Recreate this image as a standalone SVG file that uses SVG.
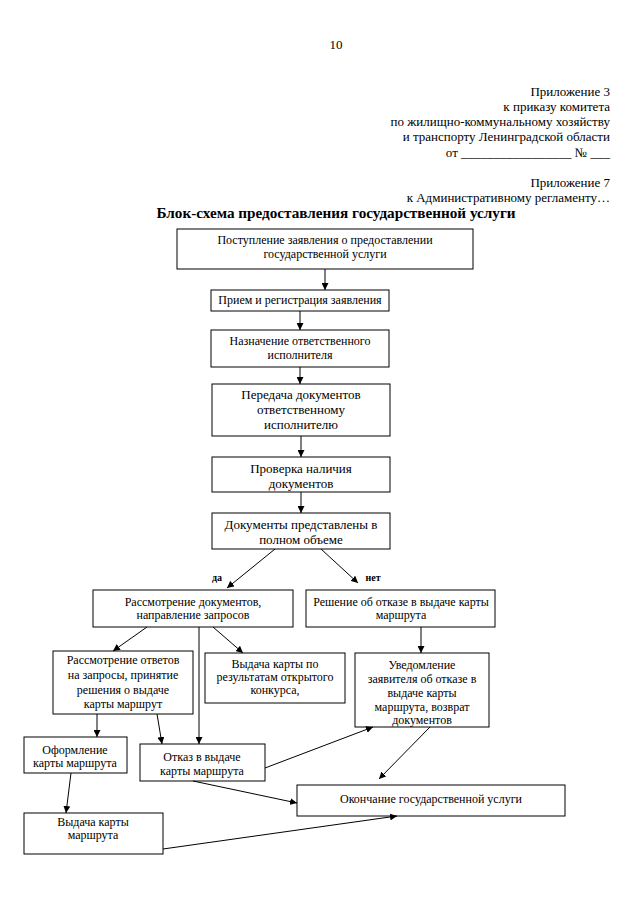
<svg xmlns="http://www.w3.org/2000/svg" width="640" height="905" viewBox="0 0 640 905">
<style>
text{font-family:"Liberation Serif","Times New Roman",serif;fill:#000}
.h{font-size:13px;text-anchor:end}
.t{font-size:12px;text-anchor:middle}
.tl{font-size:13px;text-anchor:middle}
.b{fill:#fff;stroke:#000;stroke-width:1}
.c line{stroke:#000;stroke-width:1}
.lab{font-size:10px;font-weight:bold;text-anchor:middle}
</style>
<defs>
<marker id="ar" viewBox="0 0 10 10" refX="10" refY="5" markerWidth="7" markerHeight="7" markerUnits="userSpaceOnUse" orient="auto"><path d="M0,0 L10,5 L0,10 z" fill="#000"/></marker>
</defs>
<rect width="640" height="905" fill="#fff"/>
<g id="header">
<text x="336" y="49" style="font-size:13px;text-anchor:middle">10</text>
<text class="h" x="610" y="96">Приложение 3</text>
<text class="h" x="610" y="111">к приказу комитета</text>
<text class="h" x="610" y="126">по жилищно-коммунальному хозяйству</text>
<text class="h" x="610" y="141">и транспорту Ленинградской области</text>
<text class="h" x="610" y="157">от _________________ № ___</text>
<text class="h" x="610" y="187">Приложение 7</text>
<text class="h" x="610" y="202">к Административному регламенту…</text>
<text x="336" y="218" style="font-size:15.2px;font-weight:bold;text-anchor:middle">Блок-схема предоставления государственной услуги</text>
</g>
<g id="n1"><rect class="b" x="177" y="229" width="296" height="40"/><text class="t" x="325" y="244">Поступление заявления о предоставлении</text><text class="t" x="325" y="258">государственной услуги</text></g>
<g id="n2"><rect class="b" x="211" y="290" width="178" height="21"/><text class="t" x="300" y="304">Прием и регистрация заявления</text></g>
<g id="n3"><rect class="b" x="211" y="330" width="178" height="37"/><text class="t" x="300" y="345">Назначение ответственного</text><text class="t" x="300" y="359">исполнителя</text></g>
<g id="n4"><rect class="b" x="212" y="384" width="178" height="52"/><text class="tl" x="301" y="399">Передача документов</text><text class="tl" x="301" y="414">ответственному</text><text class="tl" x="301" y="429">исполнителю</text></g>
<g id="n5"><rect class="b" x="212" y="457" width="178" height="35"/><text class="tl" x="301" y="473">Проверка наличия</text><text class="tl" x="301" y="488">документов</text></g>
<g id="n6"><rect class="b" x="212" y="513" width="178" height="36"/><text class="tl" x="301" y="529">Документы представлены в</text><text class="tl" x="301" y="544">полном объеме</text></g>
<g id="n7"><rect class="b" x="93" y="590" width="200" height="37"/><text class="t" x="193" y="606">Рассмотрение документов,</text><text class="t" x="193" y="619">направление запросов</text></g>
<g id="n8"><rect class="b" x="306" y="590" width="189" height="37"/><text class="t" x="401" y="606">Решение об отказе в выдаче карты</text><text class="t" x="401" y="619">маршрута</text></g>
<g id="n9"><rect class="b" x="53" y="651" width="140" height="63"/><text class="t" x="123" y="664">Рассмотрение ответов</text><text class="t" x="123" y="679">на запросы, принятие</text><text class="t" x="123" y="694">решения о выдаче</text><text class="t" x="123" y="708">карты маршрут</text></g>
<g id="n10"><rect class="b" x="205" y="653" width="140" height="50"/><text class="t" x="275" y="668">Выдача карты по</text><text class="t" x="275" y="681">результатам открытого</text><text class="t" x="275" y="694">конкурса,</text></g>
<g id="n11"><rect class="b" x="355" y="653" width="134" height="74"/><text class="t" x="422" y="669">Уведомление</text><text class="t" x="422" y="683">заявителя об отказе в</text><text class="t" x="422" y="697">выдаче карты</text><text class="t" x="422" y="711">маршрута, возврат</text><text class="t" x="422" y="724">документов</text></g>
<g id="n12"><rect class="b" x="24" y="737" width="103" height="36"/><text class="t" x="75" y="754">Оформление</text><text class="t" x="75" y="767">карты маршрута</text></g>
<g id="n13"><rect class="b" x="140" y="744" width="125" height="37"/><text class="t" x="202" y="761">Отказ в выдаче</text><text class="t" x="202" y="775">карты маршрута</text></g>
<g id="n14"><rect class="b" x="297" y="785" width="268" height="31"/><text class="t" x="431" y="803">Окончание государственной услуги</text></g>
<g id="n15"><rect class="b" x="24" y="813" width="139" height="41"/><text class="t" x="93" y="826">Выдача  карты</text><text class="t" x="93" y="839">маршрута</text></g>
<g id="labels">
<text class="lab" x="217" y="581">да</text>
<text class="lab" x="373" y="581">нет</text>
</g>
<g id="connectors" class="c">
<line x1="325" y1="269" x2="325" y2="290" marker-end="url(#ar)"/>
<line x1="300" y1="311" x2="300" y2="330" marker-end="url(#ar)"/>
<line x1="300" y1="367" x2="300" y2="384" marker-end="url(#ar)"/>
<line x1="301" y1="436" x2="301" y2="457" marker-end="url(#ar)"/>
<line x1="301" y1="492" x2="301" y2="513" marker-end="url(#ar)"/>
<line x1="275" y1="549" x2="227" y2="588" marker-end="url(#ar)"/>
<line x1="321" y1="549" x2="358" y2="583" marker-end="url(#ar)"/>
<line x1="147" y1="627" x2="113" y2="651" marker-end="url(#ar)"/>
<line x1="213" y1="627" x2="243" y2="653" marker-end="url(#ar)"/>
<line x1="199" y1="627" x2="199" y2="744" marker-end="url(#ar)"/>
<line x1="421" y1="627" x2="421" y2="653" marker-end="url(#ar)"/>
<line x1="97" y1="714" x2="97" y2="737" marker-end="url(#ar)"/>
<line x1="157" y1="714" x2="162" y2="744" marker-end="url(#ar)"/>
<line x1="71" y1="773" x2="66" y2="813" marker-end="url(#ar)"/>
<line x1="265" y1="768" x2="373" y2="727" marker-end="url(#ar)"/>
<line x1="193" y1="781" x2="297" y2="803" marker-end="url(#ar)"/>
<line x1="430" y1="727" x2="379" y2="779" marker-end="url(#ar)"/>
<line x1="163" y1="849" x2="397" y2="816" marker-end="url(#ar)"/>
</g>
</svg>
